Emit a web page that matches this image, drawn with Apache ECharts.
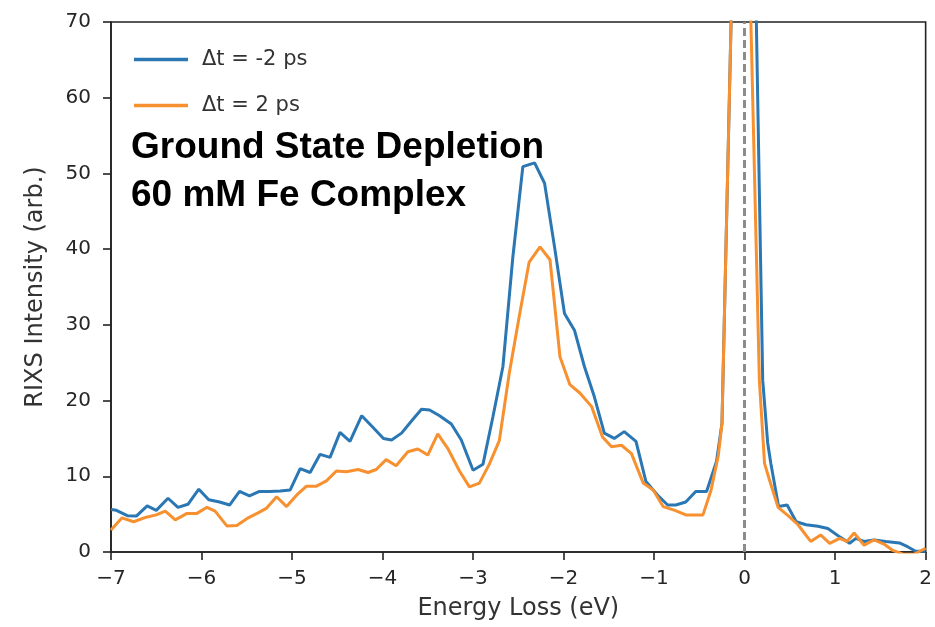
<!DOCTYPE html>
<html>
<head>
<meta charset="utf-8">
<script src="https://cdn.jsdelivr.net/npm/echarts@6/dist/echarts.min.js"></script>
<style>
  html, body { margin: 0; padding: 0; background: #ffffff; }
  #chart { width: 935px; height: 627px; }
</style>
</head>
<body>
<div id="chart"></div>
<script>
// ---- data ----
const seriesNames = ['\u0394t = -2 ps', '\u0394t = 2 ps'];

const blueEnergy = [-7.0, -6.94, -6.82, -6.72, -6.60, -6.50, -6.37, -6.26, -6.15, -6.03,
  -5.92, -5.80, -5.69, -5.58, -5.47, -5.36, -5.25, -5.13, -5.02, -4.91,
  -4.80, -4.69, -4.58, -4.47, -4.36, -4.23, -4.11, -3.99, -3.90, -3.79,
  -3.68, -3.57, -3.48, -3.37, -3.24, -3.13, -3.00, -2.89, -2.78, -2.67,
  -2.56, -2.45, -2.32, -2.21, -2.10, -1.99, -1.88, -1.77, -1.66, -1.55,
  -1.44, -1.33, -1.20, -1.09, -0.96, -0.85, -0.76, -0.65, -0.54, -0.42,
  -0.31, -0.25, -0.14, 0.0, 0.10, 0.20, 0.255, 0.29, 0.375, 0.47,
  0.57, 0.68, 0.81, 0.92, 1.05, 1.16, 1.23, 1.32, 1.43, 1.56,
  1.71, 1.80, 1.89, 2.0];
const blueIntensity = [5.6, 5.5, 4.8, 4.75, 6.1, 5.5, 7.1, 5.9, 6.3, 8.3,
  6.9, 6.6, 6.2, 8.0, 7.4, 8.0, 8.0, 8.05, 8.2, 11.0,
  10.5, 12.9, 12.5, 15.8, 14.6, 18.0, 16.5, 15.0, 14.8, 15.7,
  17.3, 18.85, 18.75, 18.0, 16.9, 14.8, 10.8, 11.6, 17.9, 24.5,
  39.0, 50.9, 51.4, 48.7, 40.3, 31.5, 29.3, 24.5, 20.5, 15.7,
  15.0, 15.9, 14.6, 9.3, 7.5, 6.2, 6.2, 6.6, 8.0, 8.0,
  12.0, 17.0, 75, 130, 90, 22.7, 14.4, 11.7, 6.0, 6.2,
  4.0, 3.6, 3.4, 3.1, 2.0, 1.15, 1.8, 1.4, 1.6, 1.4,
  1.2, 0.7, 0.1, 0.1];

const orangeEnergy = [-7.0, -6.88, -6.75, -6.61, -6.50, -6.40, -6.29, -6.16, -6.05, -5.94,
  -5.85, -5.72, -5.61, -5.50, -5.37, -5.28, -5.17, -5.06, -4.95, -4.84,
  -4.73, -4.62, -4.51, -4.40, -4.27, -4.16, -4.07, -3.96, -3.85, -3.72,
  -3.61, -3.50, -3.39, -3.28, -3.15, -3.04, -2.93, -2.82, -2.71, -2.60,
  -2.49, -2.38, -2.26, -2.15, -2.04, -1.93, -1.82, -1.69, -1.57, -1.47,
  -1.36, -1.25, -1.12, -1.01, -0.90, -0.77, -0.65, -0.55, -0.46, -0.37,
  -0.29, -0.25, -0.14, -0.05, 0.03, 0.163, 0.22, 0.275, 0.37, 0.48,
  0.59, 0.73, 0.84, 0.94, 1.05, 1.13, 1.21, 1.32, 1.43, 1.54,
  1.63, 1.75, 1.87, 2.0];
const orangeIntensity = [2.9, 4.5, 4.0, 4.6, 4.9, 5.4, 4.25, 5.1, 5.1, 5.9,
  5.4, 3.45, 3.5, 4.4, 5.2, 5.8, 7.3, 6.0, 7.5, 8.7,
  8.7, 9.4, 10.7, 10.6, 10.9, 10.5, 10.9, 12.2, 11.4, 13.25,
  13.6, 12.8, 15.6, 13.7, 10.7, 8.6, 9.1, 11.6, 14.7, 23.6,
  31.1, 38.3, 40.3, 38.6, 25.8, 22.1, 21.0, 19.2, 15.2, 13.9,
  14.1, 13.0, 9.1, 8.2, 6.0, 5.5, 4.9, 4.9, 4.9, 8.2,
  12.8, 17.0, 75, 120, 90, 22.7, 11.7, 9.5, 5.9, 4.8,
  3.6, 1.4, 2.25, 1.15, 1.8, 1.4, 2.5, 0.9, 1.6, 1.05,
  0.26, -0.3, -0.3, 0.5];

const elasticLineEnergy = 0;
const annotationLines = ['Ground State Depletion', '60 mM Fe Complex'];
const xAxisTitle = 'Energy Loss (eV)';
const yAxisTitle = 'RIXS Intensity (arb.)';

// ---- build chart ----
function pairs(xs, ys) { return xs.map((x, i) => [x, ys[i]]); }
const minusFmt = v => (v < 0 ? '\u2212' + Math.abs(v) : String(v));

const FONT = 'DejaVu Sans';
const BLUE = '#2a77b3';
const ORANGE = '#f7902f';
const chart = echarts.init(document.getElementById('chart'), null, { renderer: 'canvas' });

chart.setOption({
  animation: false,
  backgroundColor: '#ffffff',
  grid: {
    left: 111, right: 8.5, top: 22, bottom: 75,
    show: true, borderColor: '#222222', borderWidth: 1.6, backgroundColor: 'transparent'
  },
  legend: {
    orient: 'vertical',
    left: 129, top: 44,
    icon: 'rect',
    itemWidth: 54, itemHeight: 3.5, itemGap: 25,
    data: seriesNames,
    textStyle: { fontFamily: FONT, fontSize: 21, color: '#333333', lineHeight: 21, padding: [0, 0, 0, 9] }
  },
  xAxis: {
    type: 'value', min: -7, max: 2, interval: 1,
    name: xAxisTitle, nameLocation: 'middle', nameGap: 45,
    nameTextStyle: { fontFamily: FONT, fontSize: 24, color: '#333333' },
    axisLine: { show: true, onZero: false, lineStyle: { color: '#222222', width: 1.6 } },
    axisTick: { show: true, inside: false, length: 8, lineStyle: { color: '#222222', width: 1.6 } },
    axisLabel: { fontFamily: FONT, fontSize: 20, color: '#262626', margin: 17, formatter: minusFmt },
    splitLine: { show: false }
  },
  yAxis: {
    type: 'value', min: 0, max: 70, interval: 10,
    name: yAxisTitle, nameLocation: 'middle', nameGap: 63, nameRotate: 90,
    nameTextStyle: { fontFamily: FONT, fontSize: 24, color: '#333333' },
    axisLine: { show: true, onZero: false, lineStyle: { color: '#222222', width: 1.6 } },
    axisTick: { show: true, inside: false, length: 8, lineStyle: { color: '#222222', width: 1.6 } },
    axisLabel: { fontFamily: FONT, fontSize: 20, color: '#262626', margin: 20, formatter: minusFmt },
    splitLine: { show: false }
  },
  series: [
    {
      name: seriesNames[0], type: 'line', symbol: 'none', clip: true,
      data: pairs(blueEnergy, blueIntensity),
      lineStyle: { color: BLUE, width: 3 },
      itemStyle: { color: BLUE },
      z: 3,
      markLine: {
        silent: true, symbol: 'none', animation: false,
        label: { show: false },
        lineStyle: { color: '#8c8c8c', type: [8, 4], width: 3 },
        data: [{ xAxis: elasticLineEnergy }]
      }
    },
    {
      name: seriesNames[1], type: 'line', symbol: 'none', clip: true,
      data: pairs(orangeEnergy, orangeIntensity),
      lineStyle: { color: ORANGE, width: 3 },
      itemStyle: { color: ORANGE },
      z: 4
    }
  ],
  graphic: annotationLines.map((t, i) => ({
    type: 'text', left: 131, top: 129 + i * 48, z: 100,
    style: { text: t, font: 'bold 37px "Liberation Sans", Arial, sans-serif', fill: '#000000' }
  }))
});
</script>
</body>
</html>
